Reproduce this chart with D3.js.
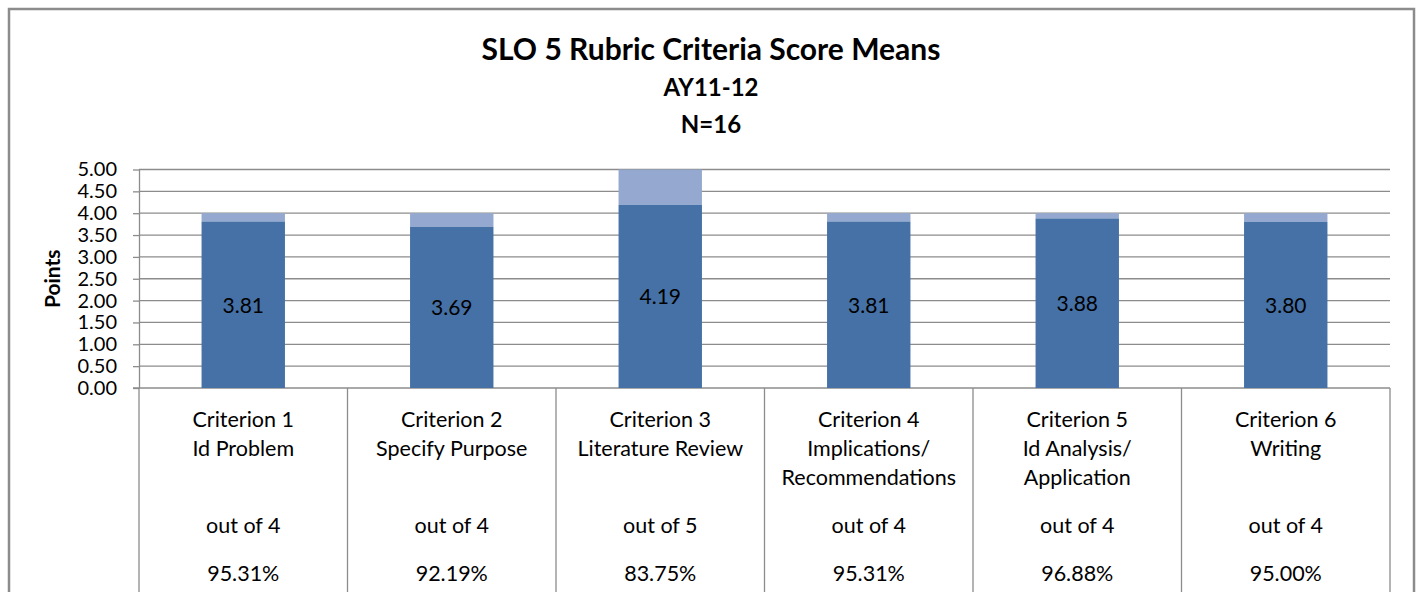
<!DOCTYPE html>
<html>
<head>
<meta charset="utf-8">
<script src="https://cdn.jsdelivr.net/npm/d3@7"></script>
<style>
  body { margin: 0; background: #fff; }
  svg text { font-family: Lato, "Open Sans", sans-serif; fill: #000; }
</style>
</head>
<body>
<svg width="1416" height="592"></svg>
<script>
var svg = d3.select("svg");

// chart data
var criteria = ["Criterion 1", "Criterion 2", "Criterion 3", "Criterion 4", "Criterion 5", "Criterion 6"];
var labelLine2 = ["Id Problem", "Specify Purpose", "Literature Review", "Implications/", "Id Analysis/", "Writing"];
var labelLine3 = ["", "", "", "Recommendations", "Application", ""];
var means = [3.81, 3.69, 4.19, 3.81, 3.88, 3.80];
var maxScores = [4, 4, 5, 4, 4, 4];
var percents = ["95.31%", "92.19%", "83.75%", "95.31%", "96.88%", "95.00%"];
var yTicks = [0, 0.5, 1, 1.5, 2, 2.5, 3, 3.5, 4, 4.5, 5];

var plotL = 139, plotR = 1390, plotT = 169.5, plotB = 388;
var grey = "#8c8c8c";

var x = d3.scaleBand().domain(criteria).range([plotL, plotR])
          .paddingInner(0.6).paddingOuter(0.3);
var y = d3.scaleLinear().domain([0, 5]).range([plotB, plotT]);
var step = x.step();

// outer frame
svg.append("rect")
   .attr("x", 9).attr("y", 9).attr("width", 1405).attr("height", 600)
   .attr("fill", "none").attr("stroke", grey).attr("stroke-width", 2.5);

// titles
svg.append("text").attr("x", 711).attr("y", 60).attr("text-anchor", "middle")
   .attr("font-size", 30).attr("font-weight", "bold").text("SLO 5 Rubric Criteria Score Means");
svg.append("text").attr("x", 711).attr("y", 96).attr("text-anchor", "middle")
   .attr("font-size", 24).attr("font-weight", "bold").text("AY11-12");
svg.append("text").attr("x", 711).attr("y", 133).attr("text-anchor", "middle")
   .attr("font-size", 24).attr("font-weight", "bold").text("N=16");

// gridlines
svg.append("g")
   .selectAll("line")
   .data(yTicks.filter(function(d) { return d > 0; }))
   .enter()
   .append("line")
   .attr("x1", plotL).attr("x2", plotR)
   .attr("y1", function(d) { return y(d); })
   .attr("y2", function(d) { return y(d); })
   .attr("stroke", grey).attr("stroke-width", 1.3);

// y axis
var yAxis = svg.append("g")
   .attr("transform", "translate(" + plotL + ",0)")
   .call(d3.axisLeft(y).tickValues(yTicks).tickFormat(d3.format(".2f")).tickSizeInner(6).tickSizeOuter(0).tickPadding(16));
yAxis.select(".domain").attr("stroke", grey).attr("stroke-width", 1.3);
yAxis.selectAll(".tick line").attr("stroke", grey).attr("stroke-width", 1.3);
yAxis.selectAll("text").attr("font-size", 20).style("font-family", "Lato, sans-serif").attr("fill", "#000");

svg.append("text")
   .attr("transform", "translate(60," + ((plotT + plotB) / 2) + ") rotate(-90)")
   .attr("text-anchor", "middle")
   .attr("font-size", 21).attr("font-weight", "bold").text("Points");

// category separators and baseline
svg.append("line").attr("x1", plotL - 6).attr("x2", plotR)
   .attr("y1", plotB).attr("y2", plotB)
   .attr("stroke", grey).attr("stroke-width", 1.3);
var seps = d3.range(criteria.length + 1).map(function(i) { return plotL + i * step; });
svg.append("g").selectAll("line").data(seps).enter().append("line")
   .attr("x1", function(d) { return d; }).attr("x2", function(d) { return d; })
   .attr("y1", plotB).attr("y2", 600)
   .attr("stroke", grey).attr("stroke-width", 1.3);

// bars: remainder to max (light) and mean (dark)
var bars = svg.append("g");
bars.selectAll("rect.rest").data(criteria).enter().append("rect")
    .attr("x", function(d) { return x(d); })
    .attr("width", x.bandwidth())
    .attr("y", function(d, i) { return y(maxScores[i]); })
    .attr("height", function(d, i) { return y(means[i]) - y(maxScores[i]); })
    .attr("fill", "#95a9d0");
bars.selectAll("rect.mean").data(criteria).enter().append("rect")
    .attr("x", function(d) { return x(d); })
    .attr("width", x.bandwidth())
    .attr("y", function(d, i) { return y(means[i]); })
    .attr("height", function(d, i) { return plotB - y(means[i]); })
    .attr("fill", "#4571a6");
bars.selectAll("text").data(criteria).enter().append("text")
    .attr("x", function(d) { return x(d) + x.bandwidth() / 2; })
    .attr("y", function(d, i) { return (y(means[i]) + plotB) / 2 + 8; })
    .attr("text-anchor", "middle").attr("font-size", 21)
    .text(function(d, i) { return means[i].toFixed(2); });

// category labels
var rows = [
  { vals: criteria, y: 427 },
  { vals: labelLine2, y: 456 },
  { vals: labelLine3, y: 485 },
  { vals: maxScores.map(function(m) { return "out of " + m; }), y: 533 },
  { vals: percents, y: 581 }
];
rows.forEach(function(r) {
  svg.append("g").selectAll("text").data(r.vals).enter().append("text")
     .attr("x", function(d, i) { return x(criteria[i]) + x.bandwidth() / 2; })
     .attr("y", r.y)
     .attr("text-anchor", "middle").attr("font-size", 21.5)
     .text(function(d) { return d; });
});
</script>
</body>
</html>
